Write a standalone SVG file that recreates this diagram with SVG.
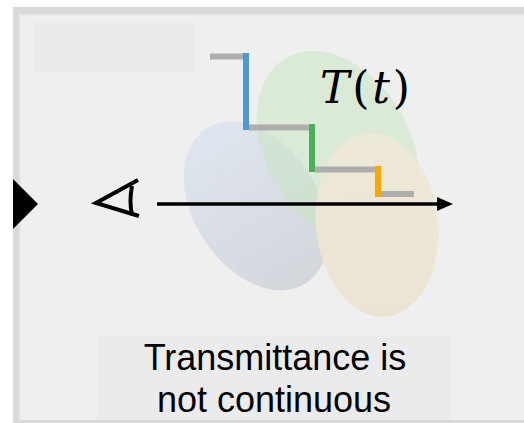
<svg xmlns="http://www.w3.org/2000/svg" width="524" height="423" viewBox="0 0 524 423">
<defs>
<style>
.step{fill:none;stroke-width:6;stroke-linecap:butt}
.gray{stroke:#adadad}
.cap{font-family:"Liberation Sans",Arial,sans-serif;font-size:36px;fill:#000;text-anchor:middle}
.math{font-family:"DejaVu Serif","Liberation Serif",serif;font-size:44px;fill:#000}
</style>
<linearGradient id="gBlue" x1="0" y1="0" x2="0" y2="1">
<stop offset="0" stop-color="#dfe5ee"/>
<stop offset="1" stop-color="#d3d7dc"/>
</linearGradient>
<linearGradient id="gBeige" x1="0" y1="0" x2="0" y2="1">
<stop offset="0" stop-color="#efe9da"/>
<stop offset="1" stop-color="#ebe3d0"/>
</linearGradient>
<marker id="arrow" markerWidth="16" markerHeight="14" refX="0" refY="7" orient="auto" markerUnits="userSpaceOnUse">
<path d="M0,0 L16,7 L0,14 Z" fill="#000"/>
</marker>
</defs>
<rect width="524" height="423" fill="#ffffff"/>
<rect x="13" y="7" width="511" height="416" fill="#d9d9d9"/>
<rect x="19" y="14" width="505" height="406" fill="#e8e8e8"/>
<rect x="21" y="16" width="503" height="404" fill="#efefef"/>
<rect x="33" y="21" width="162" height="51" fill="#ebebeb"/>
<rect x="97" y="336" width="354" height="84" fill="#ebebeb"/>
<g id="ellipse-blue"><ellipse cx="256" cy="206" rx="62" ry="92" transform="rotate(-33 256 206)" fill="url(#gBlue)"/></g>
<g id="ellipse-green"><ellipse cx="338" cy="148" rx="72" ry="104" transform="rotate(-30 338 148)" fill="#c8e6c0" fill-opacity="0.5"/></g>
<g id="ellipse-beige"><ellipse cx="377" cy="225" rx="61" ry="92" transform="rotate(-6 377 225)" fill="url(#gBeige)" fill-opacity="0.92"/></g>
<g id="transmittance">
<path class="step gray" d="M210,56.5 H243"/>
<path class="step" stroke="#4a9bd0" d="M246,53 V130"/>
<path class="step gray" d="M249,127.5 H309"/>
<path class="step" stroke="#4caf5a" d="M312,124 V172"/>
<path class="step gray" d="M315,169.5 H375"/>
<path class="step" stroke="#ffa500" d="M378,166 V197"/>
<path class="step gray" d="M381,194 H414"/>
<text class="math" x="320" y="103" textLength="90" lengthAdjust="spacing"><tspan font-style="italic">T</tspan>(<tspan font-style="italic">t</tspan>)</text>
</g>
<g id="connectors">
<line x1="157" y1="204" x2="437" y2="204" stroke="#000" stroke-width="3.5" marker-end="url(#arrow)"/>
</g>
<g id="eye">
<path d="M138,180 L96,203 L139,216" fill="none" stroke="#000" stroke-width="4" stroke-linejoin="miter"/>
<path d="M132,186 Q129,201 132,215" fill="none" stroke="#000" stroke-width="4"/>
</g>
<g id="side-marker"><path d="M13,179 L38,204 L13,229 Z" fill="#000"/></g>
<g id="caption">
<text class="cap" x="275" y="370">Transmittance is</text>
<text class="cap" x="274" y="412">not continuous</text>
</g>
</svg>
